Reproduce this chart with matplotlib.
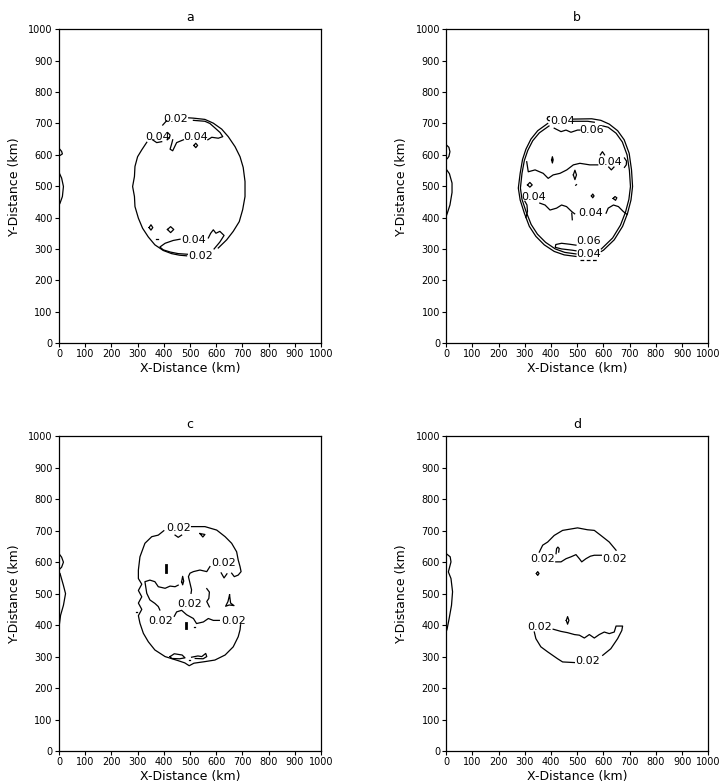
import matplotlib
matplotlib.use("Agg")
import matplotlib.pyplot as plt

# contour traces (km), one list of (x, y) vertices per line piece
a_lines = [
    [(495, 718), (513, 717), (557, 713), (589, 701), (621, 682), (646, 658), (672, 626), (691, 594),
     (703, 560), (710, 515), (710, 467), (701, 425), (688, 387), (665, 356), (640, 329), (608, 303)],
    [(487, 278), (460, 280), (430, 285), (398, 295), (366, 313), (341, 338), (319, 366), (303, 398),
     (290, 435), (288, 467), (281, 499), (288, 531), (290, 563), (300, 594), (316, 616), (335, 640)],
    [(513, 710), (557, 707), (576, 700), (595, 686), (615, 671), (625, 658), (608, 653), (583, 656), (568, 648)],
    [(475, 648), (449, 639), (434, 613), (424, 618), (430, 635), (434, 648)],
    [(415, 671), (424, 663), (421, 653), (413, 648)],
    [(396, 695), (411, 709)],
    [(357, 648), (373, 639), (392, 642)],
    [(462, 331), (436, 327), (405, 318), (385, 306), (398, 297), (425, 290), (455, 285), (490, 283)],
    [(592, 300), (614, 322), (630, 343), (614, 356), (599, 350), (589, 361), (579, 350), (570, 335)],
    [(0, 621), (10, 611), (13, 603), (4, 598), (0, 600)],
    [(0, 544), (10, 526), (17, 499), (13, 467), (4, 446), (0, 440)],
    [(515, 630), (522, 637), (529, 630), (522, 623), (515, 630)],
    [(344, 368), (351, 377), (358, 368), (351, 360), (344, 368)],
    [(414, 362), (426, 371), (438, 362), (426, 352), (414, 362)],
    [(371, 331), (376, 331)],
]
a_labels = [("0.02", 445, 713), ("0.04", 377, 658), ("0.04", 523, 658),
            ("0.04", 513, 329), ("0.02", 542, 278)]

b_lines = [
    [(387, 700), (349, 677), (323, 650), (304, 618), (291, 585), (282, 541), (275, 494), (282, 456),
     (298, 414), (317, 372), (342, 340), (374, 313), (412, 292), (450, 281), (495, 276)],
    [(592, 292), (600, 296), (641, 329), (673, 372), (692, 414), (705, 456), (711, 499), (707, 552),
     (698, 605), (679, 648), (654, 677), (622, 698), (590, 710), (555, 715), (486, 714)],
    [(392, 692), (355, 670), (330, 645), (311, 614), (298, 582), (289, 541), (283, 494), (289, 458),
     (305, 418), (324, 378), (348, 347), (379, 321), (416, 300), (452, 289), (495, 284)],
    [(592, 300), (635, 335), (665, 376), (684, 417), (697, 458), (703, 499), (699, 550), (690, 600),
     (672, 641), (648, 669), (618, 688), (598, 692)],
    [(486, 707), (540, 707), (565, 704)],
    [(394, 722), (388, 721), (385, 715), (389, 710), (393, 709)],
    [(412, 685), (438, 674), (457, 679), (476, 672), (501, 679), (510, 679)],
    [(307, 578), (313, 546), (339, 552), (370, 541), (389, 525), (408, 536), (434, 541), (460, 552),
     (485, 568), (510, 573), (548, 568), (578, 568)],
    [(680, 590), (688, 580), (687, 568), (680, 560)],
    [(588, 600), (596, 610), (604, 600)],
    [(620, 561), (630, 552), (640, 561)],
    [(357, 446), (377, 440), (396, 424), (421, 430), (440, 440), (459, 435), (479, 419), (490, 412)],
    [(479, 414), (481, 393)],
    [(610, 414), (618, 430), (638, 440), (657, 435), (676, 419), (690, 410)],
    [(300, 452), (308, 440), (310, 420), (304, 400)],
    [(495, 312), (470, 315), (440, 318), (418, 314), (416, 305), (440, 300), (480, 296), (495, 294)],
    [(0, 632), (10, 624), (14, 610), (10, 595), (4, 588), (0, 586)],
    [(0, 554), (12, 540), (22, 510), (22, 480), (14, 440), (4, 414), (0, 405)],
    [(402, 584), (405, 594), (408, 584), (405, 574), (402, 584)],
    [(485, 536), (491, 551), (497, 536), (491, 521), (485, 536)],
    [(494, 503), (497, 505)],
    [(554, 469), (559, 475), (564, 469), (559, 463), (554, 469)],
    [(637, 461), (644, 467), (651, 463), (646, 455), (637, 461)],
    [(310, 504), (319, 512), (328, 504), (319, 497), (310, 504)],
]
b_labels = [("0.04", 444, 709), ("0.06", 556, 679), ("0.04", 622, 576), ("0.04", 333, 465),
            ("0.04", 552, 414), ("0.06", 542, 324), ("0.04", 542, 285)]
b_dashed = [(512, 266), (575, 266)]

c_lines = [
    [(506, 713), (557, 713), (602, 702), (634, 681), (659, 660), (678, 633), (684, 607), (691, 586),
     (695, 570), (684, 559), (669, 554), (659, 565)],
    [(576, 586), (564, 570), (538, 575), (513, 570), (500, 565), (494, 554), (500, 533), (506, 512), (504, 501)],
    [(619, 566), (630, 550), (641, 563)],
    [(443, 686), (455, 679), (468, 686)],
    [(400, 700), (379, 686), (354, 681), (328, 660), (309, 617), (303, 575), (303, 548), (316, 530),
     (303, 510), (316, 490), (303, 470), (316, 450), (303, 430), (309, 406), (322, 374), (341, 347),
     (366, 321), (405, 300), (455, 287), (480, 280), (497, 271), (515, 279), (557, 284), (595, 289),
     (634, 305), (665, 331), (684, 363), (691, 385), (693, 401)],
    [(455, 527), (443, 522), (424, 524), (405, 517), (379, 522), (366, 538), (347, 543), (328, 538),
     (335, 501), (347, 480), (366, 469), (379, 459), (385, 448)],
    [(468, 538), (472, 555), (476, 540), (472, 528), (468, 538)],
    [(564, 516), (574, 505), (572, 485), (564, 475), (574, 458)],
    [(440, 428), (449, 442), (468, 447), (487, 433), (513, 421), (525, 405), (551, 410), (570, 421),
     (589, 415), (612, 415)],
    [(651, 496), (645, 475), (636, 460), (650, 464), (668, 462), (655, 470), (651, 496)],
    [(538, 691), (557, 688), (549, 680), (538, 691)],
    [(424, 300), (440, 309), (470, 305), (481, 296), (460, 293), (430, 294), (424, 300)],
    [(506, 298), (530, 302), (545, 300), (560, 310), (564, 300), (550, 293), (520, 294)],
    [(0, 627), (10, 616), (17, 600), (10, 584), (4, 579)],
    [(4, 564), (17, 526), (25, 500), (17, 463), (6, 431), (1, 399)],
    [(517, 394), (520, 394)],
    [(689, 463), (692, 463)],
    [(295, 442), (298, 442)],
    [(496, 288), (499, 288)],
]
c_bars = [[(407, 569), (407, 590)], [(485, 392), (485, 408)]]
c_labels = [("0.02", 455, 709), ("0.02", 627, 596), ("0.02", 500, 468),
            ("0.02", 389, 414), ("0.02", 665, 414)]

d_lines = [
    [(355, 632), (368, 654), (387, 664), (412, 685), (444, 701), (501, 709), (539, 703), (565, 701),
     (590, 685), (622, 664), (648, 638)],
    [(418, 601), (438, 601), (457, 611), (476, 617), (495, 624), (508, 611), (517, 601), (533, 611),
     (550, 619), (565, 622), (592, 622)],
    [(419, 627), (421, 643), (426, 648), (431, 643), (429, 632)],
    [(344, 564), (349, 570), (354, 564), (349, 558), (344, 564)],
    [(408, 387), (438, 380), (463, 376), (489, 370), (508, 368), (527, 359), (546, 370), (565, 359),
     (584, 370), (603, 378), (622, 373), (641, 378), (648, 397), (673, 397), (670, 383), (654, 357),
     (628, 325), (597, 304)],
    [(336, 378), (342, 357), (361, 331), (387, 315), (425, 293), (444, 283), (489, 281)],
    [(458, 415), (463, 427), (468, 415), (463, 403), (458, 415)],
    [(360, 421), (363, 421)],
    [(0, 627), (15, 617), (18, 601), (13, 585), (8, 569), (18, 548), (24, 506), (20, 463), (11, 421),
     (3, 387), (0, 380)],
]
d_labels = [("0.02", 368, 611), ("0.02", 644, 611), ("0.02", 357, 393), ("0.02", 539, 285)]

ticks = list(range(0, 1001, 100))

fig = plt.figure(figsize=(7.22, 7.84), dpi=100)
boxes = {
    "a": [0.0817, 0.5625, 0.3629, 0.4],
    "b": [0.6181, 0.5625, 0.3629, 0.4],
    "c": [0.0817, 0.0421, 0.3629, 0.4014],
    "d": [0.6181, 0.0421, 0.3629, 0.4014],
}
panels = {
    "a": (a_lines, a_labels),
    "b": (b_lines, b_labels),
    "c": (c_lines, c_labels),
    "d": (d_lines, d_labels),
}

for name, (lines, labels) in panels.items():
    ax = fig.add_axes(boxes[name])
    for pts in lines:
        xs = [p[0] for p in pts]
        ys = [p[1] for p in pts]
        ax.plot(xs, ys, color="black", lw=0.9)
    for txt, x, y in labels:
        ax.text(x, y, txt, fontsize=8, ha="center", va="center")
    if name == "b":
        ax.plot([p[0] for p in b_dashed], [p[1] for p in b_dashed], color="black",
                lw=0.9, ls=(0, (3, 2)))
    if name == "c":
        for pts in c_bars:
            ax.plot([p[0] for p in pts], [p[1] for p in pts], color="black", lw=2)
    ax.set_xlim(0, 1000)
    ax.set_ylim(0, 1000)
    ax.set_xticks(ticks)
    ax.set_yticks(ticks)
    ax.tick_params(direction="out", length=3, width=0.8, labelsize=7, pad=1.5)
    for sp in ax.spines.values():
        sp.set_linewidth(0.9)
    ax.set_title(name, fontsize=9, pad=6)
    ax.set_xlabel("X-Distance (km)", fontsize=9)
    ax.set_ylabel("Y-Distance (km)", fontsize=9)
    ax.xaxis.set_label_coords(0.5, -0.06)
    ax.yaxis.set_label_coords(-0.145, 0.5)

fig.savefig("out.png", dpi=100)
